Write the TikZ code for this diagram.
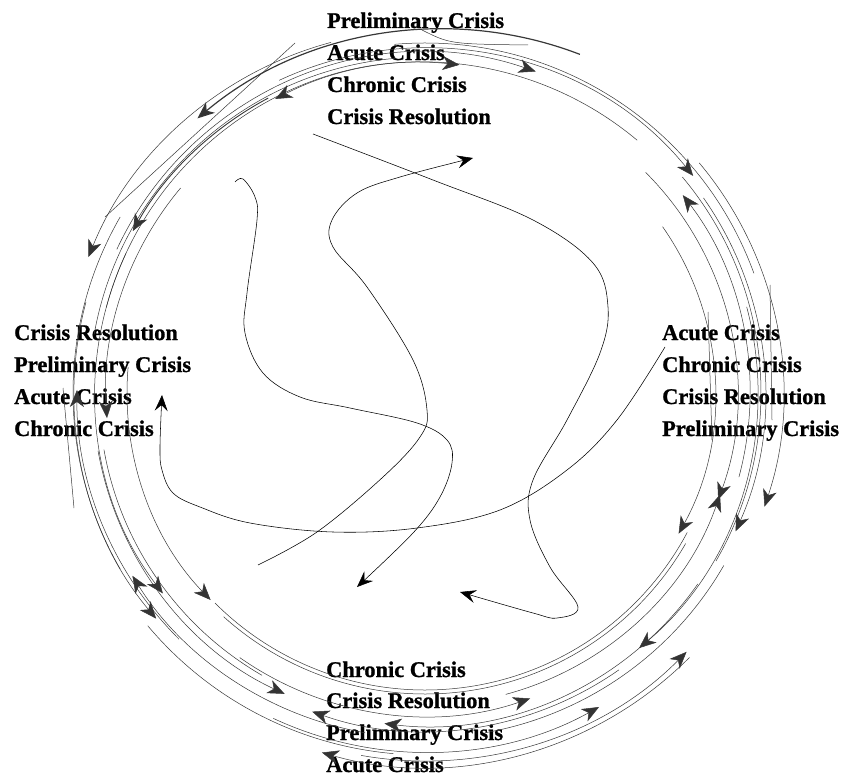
\documentclass[tikz,border=0pt]{standalone}
\usepackage{fontspec}
\setmainfont{Liberation Serif}[BoldFeatures={FakeBold=1}]
\usetikzlibrary{arrows.meta, calc}
\tikzset{
    lbl/.style={anchor=base west, inner sep=0pt, font=\fontsize{22.4}{27}\selectfont\bfseries},
    orbit/.style={draw=black!78, line width=0.5pt},
    orbitarr/.style={orbit, -{Stealth[length=17pt, width=14pt, inset=5pt, fill=black!80]}},
    wander/.style={draw=black, line width=0.55pt},
    wanderarr/.style={wander, -{Stealth[length=16pt, width=13pt, inset=6pt]}}
}

\begin{document}
\begin{tikzpicture}[x=1pt, y=-1pt]
            \useasboundingbox (0,0) rectangle (854,776);
            \coordinate (c) at (425,393);
            \coordinate (cbig) at (443,411);

            % Label groups
            \node (top-pre) [lbl] at (327,28) {Preliminary Crisis};
            \node (top-acu) [lbl] at (327,60) {Acute Crisis};
            \node (top-chr) [lbl] at (327,92) {Chronic Crisis};
            \node (top-res) [lbl] at (327,124) {Crisis Resolution};

            \node (left-res) [lbl] at (14,340) {Crisis Resolution};
            \node (left-pre) [lbl] at (14,372) {Preliminary Crisis};
            \node (left-acu) [lbl] at (14,404) {Acute Crisis};
            \node (left-chr) [lbl] at (14,436) {Chronic Crisis};

            \node (right-acu) [lbl] at (662,340) {Acute Crisis};
            \node (right-chr) [lbl] at (662,372) {Chronic Crisis};
            \node (right-res) [lbl] at (662,404) {Crisis Resolution};
            \node (right-pre) [lbl] at (662,436) {Preliminary Crisis};

            \node (bot-chr) [lbl] at (326,677) {Chronic Crisis};
            \node (bot-res) [lbl] at (326,708) {Crisis Resolution};
            \node (bot-pre) [lbl] at (326,740) {Preliminary Crisis};
            \node (bot-acu) [lbl] at (326,772) {Acute Crisis};

            % Upper arcs
            \draw[orbitarr] ($(c)+(-165:330)$) arc[start angle=-165, end angle=-84, radius=330];
            \draw[orbitarr] ($(c)+(-155:340)$) arc[start angle=-155, end angle=-71, radius=340];
            \draw[orbitarr] ($(c)+(-50:330)$) arc[start angle=-50, end angle=-117, radius=330];
            \draw[orbitarr, line width=1.2pt] ($(cbig)+(-69:382)$) arc[start angle=-69, end angle=-130, radius=382];
            \draw[orbitarr, line width=0.9pt] ($(c)+(-118:334)$) arc[start angle=-118, end angle=-151, radius=334];
            \draw[orbitarr] ($(c)+(-105:363)$) arc[start angle=-105, end angle=-158, radius=363];
            \draw[orbitarr] ($(c)+(-115:345)$) arc[start angle=-115, end angle=-39, radius=345];
            \draw[orbitarr] ($(c)+(15:325)$) arc[start angle=15, end angle=-37.5, radius=325];

            % Left arcs
            \draw[orbitarr] ($(c)+(135:348)$) arc[start angle=135, end angle=180.5, radius=348];
            \draw[orbitarr] ($(c)+(220:319)$) arc[start angle=220, end angle=175.5, radius=319];
            \draw[orbitarr] ($(c)+(100:345)$) arc[start angle=100, end angle=148, radius=345];
            \draw[orbitarr] ($(c)+(205:330)$) arc[start angle=205, end angle=142.6, radius=330];
            \draw[orbitarr] ($(c)+(195:351)$) arc[start angle=195, end angle=140, radius=351];
            \draw[orbitarr] ($(c)+(185:298)$) arc[start angle=185, end angle=136, radius=298];
            \draw[orbitarr] ($(c)+(170:332)$) arc[start angle=170, end angle=115, radius=332];

            % Lower arcs
            \draw[orbitarr] ($(c)+(55:338)$) arc[start angle=55, end angle=109.5, radius=338];
            \draw[orbitarr] ($(c)+(35:333)$) arc[start angle=35, end angle=97, radius=333];
            \draw[orbitarr] ($(c)+(45:374)$) arc[start angle=45, end angle=106, radius=374];
            \draw[orbitarr] ($(c)+(125:323)$) arc[start angle=125, end angle=71, radius=323];
            \draw[orbitarr] ($(c)+(115:359)$) arc[start angle=115, end angle=61, radius=359];

            % Right arcs
            \draw[orbitarr] ($(c)+(-35:290)$) arc[start angle=-35, end angle=29, radius=290];
            \draw[orbitarr] ($(c)+(75:312)$) arc[start angle=75, end angle=19, radius=312];
            \draw[orbitarr] ($(c)+(-45:312)$) arc[start angle=-45, end angle=20, radius=312];
            \draw[orbitarr] ($(c)+(-35:340)$) arc[start angle=-35, end angle=24, radius=340];
            \draw[orbitarr] ($(c)+(-40:358)$) arc[start angle=-40, end angle=18.5, radius=358];
            \draw[orbitarr] ($(c)+(-15:333)$) arc[start angle=-15, end angle=50, radius=333];
            \draw[orbitarr] ($(c)+(100:368)$) arc[start angle=100, end angle=44.7, radius=368];

            % Plain arcs
            \draw[orbit] ($(c)+(135:297)$) arc[start angle=135, end angle=28, radius=297];
            \draw[orbit] ($(c)+(132:301)$) arc[start angle=132, end angle=30, radius=301];
            \draw[orbit] ($(c)+(-170:336)$) arc[start angle=-170, end angle=-95, radius=336];
            \draw[orbit] ($(c)+(-95:350)$) arc[start angle=-95, end angle=-20, radius=350];
            \draw[orbit] ($(c)+(-40:336)$) arc[start angle=-40, end angle=30, radius=336];
            \draw[orbit] ($(c)+(30:345)$) arc[start angle=30, end angle=80, radius=345];
            \draw[orbit] ($(c)+(150:352)$) arc[start angle=150, end angle=210, radius=352];
            \draw[orbit] ($(c)+(120:326)$) arc[start angle=120, end angle=170, radius=326];
            \draw[orbit] ($(c)+(95:362)$) arc[start angle=95, end angle=140, radius=362];
            \draw[orbit] (295,43) -- (105,217);
            \draw[orbit] (422,30) .. controls (450,44) .. (528,45);
            \draw[orbit] (708,312) -- (712,440);
            \draw[orbit] (770,285) -- (772,420);
            \draw[orbit] (63,388) -- (74,508);

            % Inner curves
            \draw[wanderarr] plot[smooth, tension=0.6] coordinates {(313,134) (433,180) (533,220) (593,263) (608,307) (600,353) (567,420) (533,480) (530,520) (550,567) (578,607) (557,618) (533,613) (460,592)};
            \draw[wanderarr] plot[smooth, tension=0.6] coordinates {(235,182) (243,179) (255,197) (257,220) (247,293) (245,333) (263,373) (300,397) (350,408) (417,423) (447,440) (452,463) (440,497) (413,533) (357,587)};
            \draw[wanderarr] plot[smooth, tension=0.6] coordinates {(258,565) (317,532) (383,477) (420,437) (427,410) (413,360) (367,287) (333,247) (332,220) (357,193) (400,177) (473,158)};
            \draw[wanderarr] plot[smooth, tension=0.6] coordinates {(665,347) (617,420) (567,470) (500,510) (417,528) (333,532) (250,523) (200,507) (173,493) (162,470) (160,447) (162,395)};
\end{tikzpicture}
\end{document}
